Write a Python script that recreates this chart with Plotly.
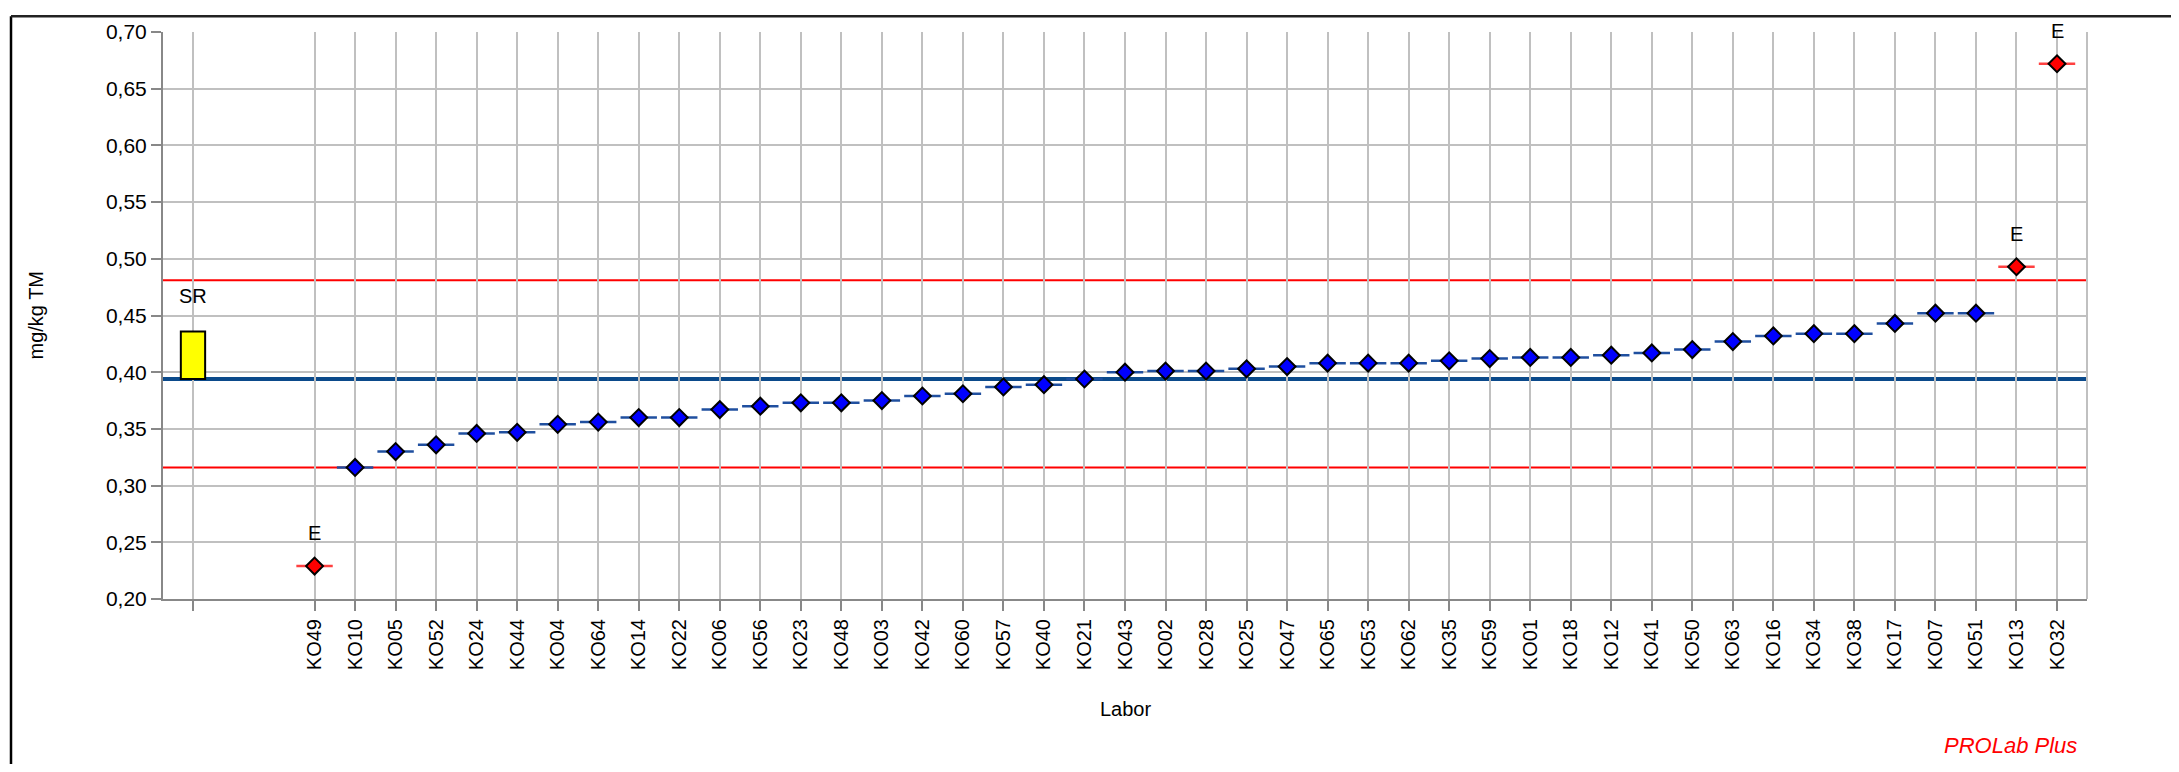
import plotly.graph_objects as go

# ---------------- data ----------------
labs = ["KO49", "KO10", "KO05", "KO52", "KO24", "KO44", "KO04", "KO64", "KO14", "KO22",
        "KO06", "KO56", "KO23", "KO48", "KO03", "KO42", "KO60", "KO57", "KO40", "KO21",
        "KO43", "KO02", "KO28", "KO25", "KO47", "KO65", "KO53", "KO62", "KO35", "KO59",
        "KO01", "KO18", "KO12", "KO41", "KO50", "KO63", "KO16", "KO34", "KO38", "KO17",
        "KO07", "KO51", "KO13", "KO32"]
values = [0.229, 0.316, 0.330, 0.336, 0.346, 0.347, 0.354, 0.356, 0.360, 0.360,
          0.367, 0.370, 0.373, 0.373, 0.375, 0.379, 0.381, 0.387, 0.389, 0.394,
          0.400, 0.401, 0.401, 0.403, 0.405, 0.408, 0.408, 0.408, 0.410, 0.412,
          0.413, 0.413, 0.415, 0.417, 0.420, 0.427, 0.432, 0.434, 0.434, 0.443,
          0.452, 0.452, 0.493, 0.672]
outliers = ["KO49", "KO13", "KO32"]
outlier_label = "E"

assigned_value = 0.394
upper_limit = 0.481
lower_limit = 0.316
sr_low = 0.394
sr_high = 0.436
sr_label = "SR"

y_title = "mg/kg TM"
x_title = "Labor"
brand = "PROLab Plus"

# ---------------- layout helpers ----------------
OFF = 8                      # page body margin of the html page
PAGE_W, PAGE_H = 2179, 772
W, H = PAGE_W - 2 * OFF, PAGE_H - 2 * OFF
# plot area in page pixels
P_L, P_R, P_T, P_B = 163, 2087, 25, 599
ML, MT = P_L - OFF, P_T - OFF
MR, MB = W - (P_R - OFF), H - (P_B - OFF)
PW, PH = W - ML - MR, H - MT - MB
def px_x(p): return (p - OFF - ML) / PW          # page px -> paper x
def px_y(p): return (H - MB - (p - OFF)) / PH    # page px -> paper y

FONT = "Liberation Sans, Arial, sans-serif"

first_pos = 3
x_pos = [first_pos + i for i in range(len(labs))]
is_out = [l in outliers for l in labs]

nx = [x for x, o in zip(x_pos, is_out) if not o]
ny = [v for v, o in zip(values, is_out) if not o]
ox = [x for x, o in zip(x_pos, is_out) if o]
oy = [v for v, o in zip(values, is_out) if o]

fig = go.Figure()

# SR box
fig.add_trace(go.Bar(x=[0], y=[sr_high - sr_low], base=[sr_low], width=0.6,
                     marker=dict(color="#ffff00", line=dict(color="black", width=2)),
                     hoverinfo="skip"))

# dashes behind diamonds
fig.add_trace(go.Scatter(x=nx, y=ny, mode="markers",
                         marker=dict(symbol="line-ew", size=26,
                                     line=dict(color="#1f4f9f", width=2.5))))
fig.add_trace(go.Scatter(x=ox, y=oy, mode="markers",
                         marker=dict(symbol="line-ew", size=26,
                                     line=dict(color="#ff4040", width=2.5))))
# diamonds
fig.add_trace(go.Scatter(x=nx, y=ny, mode="markers",
                         marker=dict(symbol="diamond", size=13, color="#0000ff",
                                     line=dict(color="black", width=2))))
fig.add_trace(go.Scatter(x=ox, y=oy, mode="markers",
                         marker=dict(symbol="diamond", size=13, color="#ff0000",
                                     line=dict(color="black", width=2))))

shapes = [
    dict(type="line", xref="paper", yref="y", x0=0, x1=1, y0=upper_limit, y1=upper_limit,
         line=dict(color="#ff0000", width=2), layer="between"),
    dict(type="line", xref="paper", yref="y", x0=0, x1=1, y0=lower_limit, y1=lower_limit,
         line=dict(color="#ff0000", width=2), layer="between"),
    dict(type="line", xref="paper", yref="y", x0=0, x1=1, y0=assigned_value, y1=assigned_value,
         line=dict(color="#0b4a8b", width=4), layer="between"),
    # right plot border
    dict(type="line", xref="paper", yref="paper", x0=1, x1=1, y0=0, y1=1,
         line=dict(color="#c0c0c0", width=2), layer="between"),
    # outer frame (left and top)
    dict(type="line", xref="paper", yref="paper", x0=px_x(11), x1=px_x(11), y0=px_y(9), y1=px_y(PAGE_H + 10),
         line=dict(color="black", width=2.5)),
    dict(type="line", xref="paper", yref="paper", x0=px_x(11), x1=px_x(PAGE_W + 10), y0=px_y(9), y1=px_y(9),
         line=dict(color="#222222", width=2.5)),
]

annotations = [
    dict(x=x, y=v, xref="x", yref="y", text=outlier_label, showarrow=False, yshift=33,
         font=dict(size=20, color="black", family=FONT)) for x, v in zip(ox, oy)
]
annotations.append(dict(x=0, y=sr_high, xref="x", yref="y", text=sr_label, showarrow=False,
                        yshift=35, font=dict(size=20, color="black", family=FONT)))
annotations.append(dict(x=px_x(35), y=0.5, xref="paper", yref="paper", text=y_title,
                        xanchor="center", yanchor="middle",
                        showarrow=False, textangle=-90, font=dict(size=20, color="black", family=FONT)))
annotations.append(dict(x=0.5, y=px_y(710), xref="paper", yref="paper", text=x_title,
                        xanchor="center", yanchor="middle",
                        showarrow=False, font=dict(size=20, color="black", family=FONT)))
annotations.append(dict(x=px_x(2079), y=px_y(747), xref="paper", yref="paper", text="<i>" + brand + "</i>",
                        xanchor="right", yanchor="middle",
                        showarrow=False, font=dict(size=22, color="#ff0000", family=FONT)))

fig.update_layout(
    width=W, height=H,
    margin=dict(l=ML, r=MR, t=MT, b=MB, pad=0),
    paper_bgcolor="white", plot_bgcolor="white",
    showlegend=False, separators=",.",
    font=dict(family=FONT, color="black", size=20),
    shapes=shapes, annotations=annotations,
    xaxis=dict(range=[-0.74, 46.74], tickmode="array",
               tickvals=[0] + x_pos, ticktext=[""] + labs, tickangle=-90,
               showgrid=True, gridcolor="#c0c0c0", gridwidth=2,
               showline=True, linecolor="#888888", linewidth=2,
               ticks="outside", ticklen=10, tickcolor="#888888", tickwidth=2,
               tickfont=dict(size=20, family=FONT, color="black"), zeroline=False),
    yaxis=dict(range=[0.20, 0.70], tickmode="linear", tick0=0.20, dtick=0.05, tickformat=".2f",
               showgrid=True, gridcolor="#c0c0c0", gridwidth=2,
               showline=True, linecolor="#888888", linewidth=2,
               ticks="outside", ticklen=10, tickcolor="#888888", tickwidth=2,
               tickfont=dict(size=21, family=FONT, color="black"), zeroline=False),
)

fig.write_html("out.html")
